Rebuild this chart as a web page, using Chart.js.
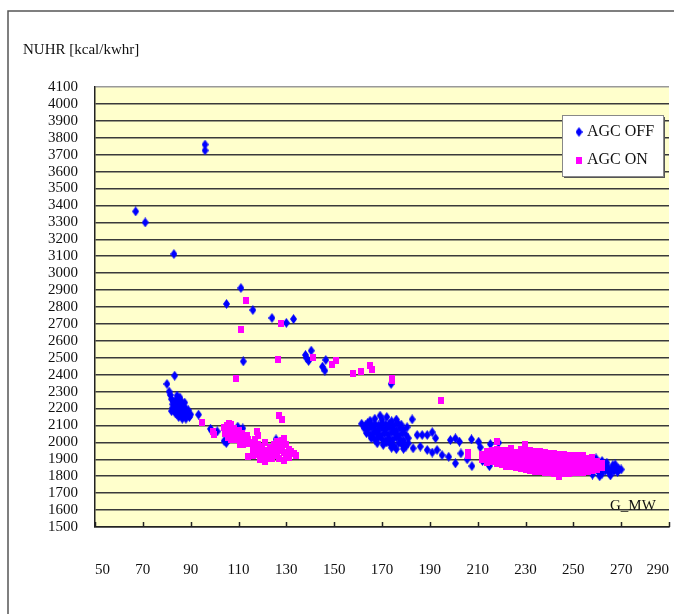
<!DOCTYPE html>
<html>
<head>
<meta charset="utf-8">
<script src="https://cdn.jsdelivr.net/npm/chart.js@4"></script>
<style>
  html, body { margin: 0; padding: 0; background: #fff; }
  #wrap { position: relative; width: 674px; height: 614px; }
</style>
</head>
<body>
<div id="wrap"><canvas id="nuhrChart" width="674" height="614"></canvas></div>
<script>
const seriesNames = ['AGC OFF', 'AGC ON'];
const xTickLabels = [50, 70, 90, 110, 130, 150, 170, 190, 210, 230, 250, 270, 290];
const yTickLabels = [1500, 1600, 1700, 1800, 1900, 2000, 2100, 2200, 2300, 2400, 2500, 2600, 2700,
    2800, 2900, 3000, 3100, 3200, 3300, 3400, 3500, 3600, 3700, 3800, 3900, 4000, 4100];

// [G_MW, NUHR]
const agcOff = [
    [67, 3365], [71, 3300], [83, 3113], [96, 3760], [96, 3725],
    [105, 2818], [111, 2912], [116, 2782], [124, 2735], [130, 2706], [133, 2729],
    [112, 2479], [138, 2516], [138.5, 2497], [139.3, 2481], [140.4, 2542],
    [146.5, 2487], [145.1, 2447], [146.1, 2424], [173.8, 2345],
    // around 85 MW
    [83.3, 2394], [80.1, 2345], [81, 2300], [84.3, 2276], [81.5, 2280], [82, 2255], [83, 2240],
    [84, 2250], [85, 2235], [82.5, 2225], [83.5, 2215], [84.5, 2220], [86, 2225], [87, 2210],
    [85.5, 2200], [84, 2195], [83, 2190], [82.5, 2205], [86.5, 2190], [87.5, 2180], [88.5, 2175],
    [85, 2180], [84, 2170], [86, 2165], [87, 2155], [88, 2160], [89.5, 2150], [89, 2170],
    [83.5, 2175], [85, 2150], [86.5, 2140], [88, 2140], [90, 2165], [82, 2185], [84.5, 2260],
    [86, 2245], [87.5, 2235], [85.5, 2265], [88, 2200], [89, 2190], [93.3, 2164],
    // 95-125 MW
    [98.3, 2080], [98.6, 2073], [101.1, 2065], [104.9, 1996], [104, 2008], [109.7, 2093],
    [111.8, 2083], [111.1, 2063], [125.7, 2018],
    // 160-185 MW
    [169.2, 2158], [167, 2140], [170, 2135], [172, 2150], [174, 2125], [165, 2128], [176, 2135],
    [161.5, 2110], [163, 2100], [164, 2115], [165.5, 2105], [167, 2110], [168.5, 2100], [170, 2115],
    [171.5, 2105], [173, 2110], [175, 2100], [176.5, 2115], [178, 2105], [182.6, 2136],
    [162.5, 2085], [164, 2075], [165.5, 2090], [167, 2080], [168.5, 2070], [170, 2085], [171.5, 2075],
    [173, 2090], [174.5, 2080], [176, 2070], [177.5, 2085], [179, 2075], [180.5, 2090],
    [163.5, 2055], [165, 2045], [166.5, 2060], [168, 2050], [169.5, 2040], [171, 2055], [172.5, 2045],
    [174, 2060], [175.5, 2050], [177, 2040], [178.5, 2055], [180, 2045],
    [165.5, 2025], [167, 2015], [168.5, 2030], [170, 2020], [171.5, 2010], [173, 2025], [174.5, 2015],
    [176, 2030], [177.5, 2020], [179, 2010], [166, 2035], [181, 2025],
    [168, 1995], [170.5, 1985], [172, 2000], [173.5, 1990], [175, 1980], [177, 1995], [178.5, 1985],
    [180, 1975], [181, 1995], [174, 1968], [176, 1960], [183, 1965], [179, 1962],
    // 185-220 MW trail
    [184.7, 2044], [186.8, 2044], [188.9, 2044], [191, 2060], [192.4, 2025], [198.6, 2014],
    [200.7, 2024], [202.4, 2004], [207.4, 2018], [210.4, 2004], [211.1, 1971], [215.3, 1990],
    [218.75, 1998], [188.9, 1955], [191, 1940], [195.1, 1925], [197.9, 1915], [200.7, 1876],
    [205.6, 1900], [207.6, 1860], [214.9, 1860], [186, 1975], [193, 1955], [203, 1935], [212, 1890],
    // 255-270 MW
    [255.5, 1880], [257, 1860], [258, 1835], [259, 1850], [260, 1870], [260.5, 1825], [261.5, 1845],
    [262, 1815], [263, 1860], [263.5, 1835], [264.5, 1850], [265, 1820], [266, 1840], [266.5, 1865],
    [267, 1830], [268, 1850], [269, 1845], [270, 1840], [268.5, 1825], [264, 1880], [262, 1890],
    [259.5, 1905], [258, 1810], [256, 1840], [261, 1800], [265.5, 1805], [267.5, 1870], [257.5, 1895]
];

const agcOn = [
    [113, 2841], [111, 2668], [127.6, 2704], [126.5, 2489], [109, 2376], [141.1, 2503],
    [149, 2463], [150.7, 2483], [158, 2408], [161.1, 2416], [165.1, 2453], [166, 2428],
    [174, 2376], [174, 2363], [194.8, 2250], [127, 2158], [128, 2137], [206.1, 1940], [206, 1920],
    [218, 2004], [229.9, 1985],
    // 95-118 MW
    [94.6, 2119], [99.3, 2063], [99.7, 2045], [104, 2090], [105, 2100], [106, 2110], [107, 2105],
    [105, 2075], [106.5, 2070], [108, 2085], [104.5, 2055], [106, 2045], [107.5, 2050], [109, 2060],
    [110, 2070], [108.5, 2030], [110, 2040], [111.5, 2050], [112.5, 2030], [113.5, 2040],
    [109.5, 2015], [111, 2010], [112.5, 2005], [114, 2015], [110.5, 1990], [112, 1985], [113.5, 1995],
    [115, 2000], [107, 2020], [105.5, 2030], [117.8, 2063], [118, 2040], [117, 2020], [116, 2000],
    // 113-135 MW
    [113.9, 1915], [116, 1960], [117, 1945], [118, 1930], [119, 1960], [120, 1975], [121, 1950],
    [122, 1935], [123, 1920], [124, 1960], [125, 1990], [126, 2005], [127, 1985], [128, 1970],
    [127, 1950], [126, 1935], [125, 1920], [124, 1905], [129, 1940], [130, 1925], [131, 1960],
    [130, 1990], [128, 2010], [129, 2025], [131, 1910], [132, 1945], [133, 1935], [134, 1925],
    [122, 1905], [120, 1915], [119, 1900], [121, 1890], [127, 1905], [129, 1895], [123, 1970],
    [121, 2000], [126, 1960], [118, 1985], [116, 1925],
    // 212-262 MW band
    [212, 1900], [212, 1930],
    [214, 1880], [214, 1910], [214, 1945],
    [216, 1885], [216, 1915], [216, 1950],
    [218, 1875], [218, 1900], [218, 1930], [218, 1960],
    [220, 1870], [220, 1895], [220, 1925], [220, 1955],
    [222, 1860], [222, 1890], [222, 1920], [222, 1950],
    [224, 1855], [224, 1885], [224, 1915], [224, 1945], [224, 1965],
    [226, 1850], [226, 1880], [226, 1910], [226, 1940],
    [228, 1845], [228, 1875], [228, 1905], [228, 1935], [228, 1960],
    [230, 1840], [230, 1870], [230, 1900], [230, 1930], [230, 1955],
    [232, 1835], [232, 1865], [232, 1895], [232, 1925], [232, 1950],
    [234, 1830], [234, 1860], [234, 1890], [234, 1920], [234, 1945],
    [236, 1830], [236, 1855], [236, 1885], [236, 1915], [236, 1945],
    [238, 1825], [238, 1855], [238, 1880], [238, 1910], [238, 1940],
    [240, 1820], [240, 1850], [240, 1880], [240, 1910], [240, 1935],
    [242, 1815], [242, 1845], [242, 1875], [242, 1905], [242, 1935],
    [244, 1800], [244, 1840], [244, 1870], [244, 1900], [244, 1930],
    [246, 1815], [246, 1845], [246, 1870], [246, 1900], [246, 1930],
    [248, 1815], [248, 1840], [248, 1870], [248, 1895], [248, 1925],
    [250, 1820], [250, 1845], [250, 1870], [250, 1895], [250, 1925],
    [252, 1820], [252, 1845], [252, 1870], [252, 1895], [252, 1920],
    [254, 1825], [254, 1850], [254, 1875], [254, 1900], [254, 1920],
    [256, 1830], [256, 1855], [256, 1880], [256, 1905],
    [258, 1835], [258, 1860], [258, 1885], [258, 1910],
    [260, 1840], [260, 1865], [260, 1890],
    [262, 1850], [262, 1875]
];

const serif = 'Liberation Serif, Times New Roman, serif';

function makeMarker(w, h, color, diamond) {
    const c = document.createElement('canvas');
    c.width = w;
    c.height = h;
    const g = c.getContext('2d');
    g.fillStyle = color;
    if (diamond) {
        g.beginPath();
        g.moveTo(w / 2, 0);
        g.lineTo(w, h / 2);
        g.lineTo(w / 2, h);
        g.lineTo(0, h / 2);
        g.closePath();
        g.fill();
    } else {
        g.fillRect(0, 0, w, h);
    }
    return c;
}

const blueDiamond = makeMarker(7, 10, '#0000ff', true);
const pinkSquare = makeMarker(6, 7, '#ff00ff', false);

const decor = {
    id: 'decor',
    beforeDraw(chart) {
        const { ctx, chartArea: a } = chart;
        ctx.save();
        ctx.fillStyle = '#ffffcc';
        ctx.fillRect(a.left, a.top, a.right - a.left, a.bottom - a.top);
        // outer frame
        ctx.strokeStyle = '#555';
        ctx.lineWidth = 1.5;
        ctx.beginPath();
        ctx.moveTo(8, 614);
        ctx.lineTo(8, 11);
        ctx.lineTo(674, 11);
        ctx.stroke();
        ctx.restore();
    },
    afterDraw(chart) {
        const { ctx, chartArea: a } = chart;
        const xs = chart.scales.x;
        ctx.save();
        // tick marks point up into the plot
        ctx.strokeStyle = '#222';
        ctx.lineWidth = 1.5;
        xs.ticks.forEach(t => {
            const px = Math.round(xs.getPixelForValue(t.value)) + 0.5;
            ctx.beginPath();
            ctx.moveTo(px, a.bottom);
            ctx.lineTo(px, a.bottom - 5);
            ctx.stroke();
        });

        ctx.fillStyle = '#111';
        ctx.textBaseline = 'middle';
        ctx.textAlign = 'left';
        ctx.font = '15px ' + serif;
        ctx.fillText('NUHR [kcal/kwhr]', 23, 50);
        ctx.fillText('G_MW', a.right - 59, a.bottom - 21);

        // legend box
        const lx = a.right - 107, ly = a.top + 28, lw = 101, lh = 61;
        ctx.fillStyle = '#555';
        ctx.fillRect(lx + 2, ly + 2, lw, lh);
        ctx.fillStyle = '#fff';
        ctx.fillRect(lx, ly, lw, lh);
        ctx.strokeStyle = '#888';
        ctx.lineWidth = 1;
        ctx.strokeRect(lx + 0.5, ly + 0.5, lw, lh);
        const marks = [blueDiamond, pinkSquare];
        ctx.font = '16px ' + serif;
        ctx.fillStyle = '#111';
        seriesNames.forEach((name, i) => {
            const cy = ly + 17 + i * 28;
            const m = marks[i];
            ctx.drawImage(m, lx + 17 - m.width / 2, cy - m.height / 2);
            ctx.fillText(name, lx + 25, cy);
        });
        ctx.restore();
    }
};

new Chart(document.getElementById('nuhrChart'), {
    type: 'scatter',
    data: {
        datasets: [
            {
                label: seriesNames[0],
                data: agcOff.map(p => ({ x: p[0], y: p[1] })),
                pointStyle: blueDiamond,
                pointRadius: 4,
                backgroundColor: '#0000ff',
                order: 2
            },
            {
                label: seriesNames[1],
                data: agcOn.map(p => ({ x: p[0], y: p[1] })),
                pointStyle: pinkSquare,
                pointRadius: 4,
                backgroundColor: '#ff00ff',
                order: 1
            }
        ]
    },
    options: {
        responsive: false,
        animation: false,
        layout: { padding: { top: 87, right: 3, left: 0, bottom: 0 } },
        plugins: { legend: { display: false }, tooltip: { enabled: false } },
        scales: {
            x: {
                type: 'linear',
                min: 50,
                max: 290,
                afterBuildTicks: s => { s.ticks = xTickLabels.map(v => ({ value: v })); },
                afterFit: s => { s.height = 87; s.paddingLeft = 0; s.paddingRight = 0; },
                grid: { drawOnChartArea: false, drawTicks: false },
                border: { color: '#222', width: 1.5 },
                ticks: {
                    autoSkip: false,
                    maxRotation: 0,
                    align: 'inner',
                    padding: 36,
                    color: '#111',
                    callback: v => String(v),
                    font: { family: serif, size: 15, lineHeight: 1 }
                }
            },
            y: {
                type: 'linear',
                min: 1500,
                max: 4100,
                afterBuildTicks: s => { s.ticks = yTickLabels.map(v => ({ value: v })); },
                afterFit: s => { s.width = 95; s.paddingTop = 0; s.paddingBottom = 0; },
                grid: {
                    drawTicks: false,
                    color: c => (c.tick && c.tick.value === 4100 ? '#999' : '#3a3a3a'),
                    lineWidth: 1.5
                },
                border: { color: '#222', width: 1.5 },
                ticks: {
                    autoSkip: false,
                    padding: 17,
                    color: '#111',
                    callback: v => String(v),
                    font: { family: serif, size: 15, lineHeight: 1 }
                }
            }
        }
    },
    plugins: [decor]
});
</script>
</body>
</html>
